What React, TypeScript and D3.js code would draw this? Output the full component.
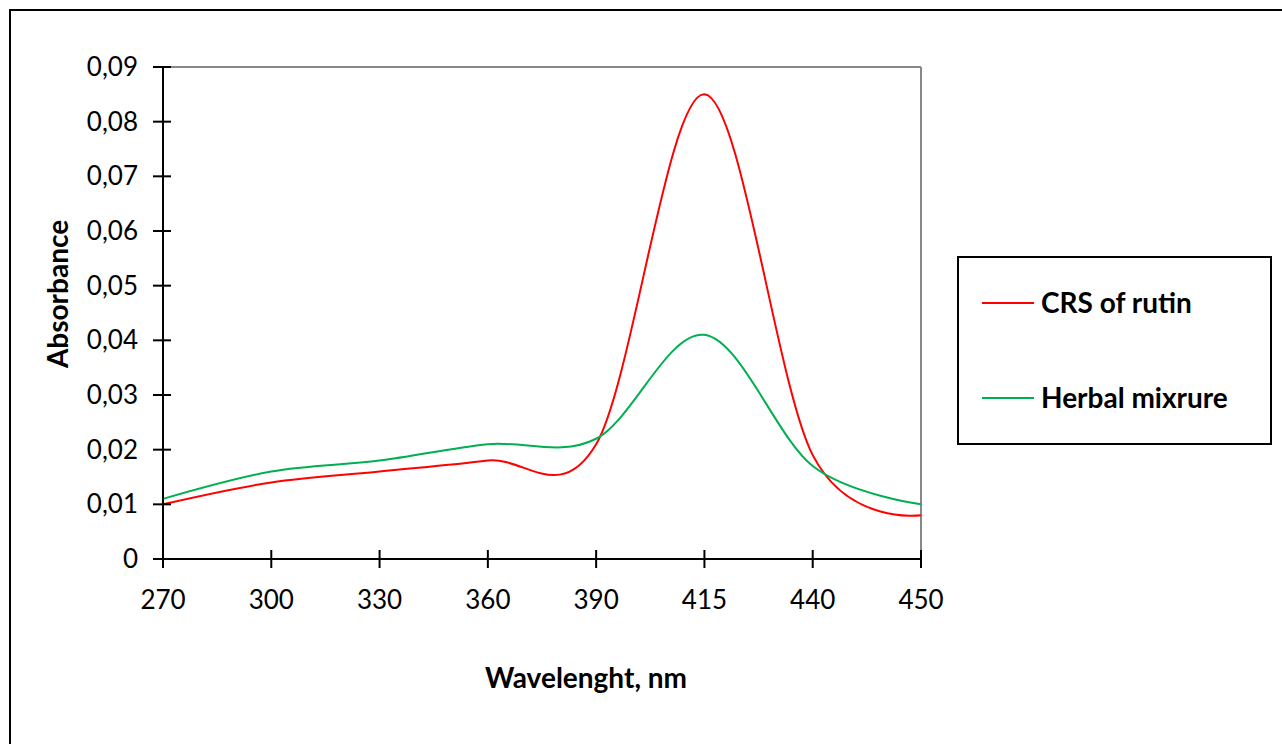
import * as d3 from "d3";

const categories = ["270", "300", "330", "360", "390", "415", "440", "450"];
const rutin = [0.01, 0.014, 0.016, 0.018, 0.021, 0.085, 0.019, 0.008];
const herbal = [0.011, 0.016, 0.018, 0.021, 0.022, 0.041, 0.017, 0.01];
const yTicks = [0, 0.01, 0.02, 0.03, 0.04, 0.05, 0.06, 0.07, 0.08, 0.09];

const series = [
  { name: "CRS of rutin", values: rutin, color: "#ff0000" },
  { name: "Herbal mixrure", values: herbal, color: "#00b050" },
];

const font = "Lato, 'Open Sans', sans-serif";

export default function App() {
  const width = 1282;
  const height = 744;
  const left = 163;
  const right = 921;
  const top = 67;
  const bottom = 559;

  const x = d3.scalePoint<string>().domain(categories).range([left, right]);
  const y = d3.scaleLinear().domain([0, 0.09]).range([bottom, top]);

  const line = d3
    .line<number>()
    .x((_, i) => x(categories[i]) as number)
    .y((d) => y(d))
    .curve(d3.curveCardinal.tension(0));

  const fmt = (v: number) => (v === 0 ? "0" : v.toFixed(2).replace(".", ","));

  return (
    <svg
      width={width}
      height={height}
      style={{ position: "absolute", left: 0, top: 0, fontFamily: font }}
    >
      <rect x={0} y={0} width={width} height={height} fill="#fff" />
      <rect x={10} y={10} width={1290} height={760} fill="none" stroke="#000" strokeWidth={2} />

      {/* plot frame */}
      <line x1={left} x2={right} y1={top} y2={top} stroke="#888" strokeWidth={2} />
      <line x1={right} x2={right} y1={top} y2={bottom} stroke="#888" strokeWidth={2} />

      {series.map((s) => (
        <path key={s.name} d={line(s.values) || ""} fill="none" stroke={s.color} strokeWidth={2} />
      ))}

      {/* axes */}
      <line x1={left} x2={left} y1={top} y2={bottom} stroke="#000" strokeWidth={2} />
      <line x1={left} x2={right} y1={bottom} y2={bottom} stroke="#000" strokeWidth={2} />

      {yTicks.map((t) => (
        <g key={t}>
          <line x1={left - 10} x2={left + 8} y1={y(t)} y2={y(t)} stroke="#000" strokeWidth={2} />
          <text x={138} y={y(t)} dy="0.35em" textAnchor="end" fontSize={26}>
            {fmt(t)}
          </text>
        </g>
      ))}

      {categories.map((c) => (
        <g key={c}>
          <line
            x1={x(c)}
            x2={x(c)}
            y1={bottom - 9}
            y2={bottom + 9}
            stroke="#000"
            strokeWidth={2}
          />
          <text x={x(c)} y={600} dy="0.35em" textAnchor="middle" fontSize={26}>
            {c}
          </text>
        </g>
      ))}

      <text
        transform={`translate(58,${(top + bottom) / 2 - 19}) rotate(-90)`}
        textAnchor="middle"
        dy="0.35em"
        fontSize={28}
        fontWeight="bold"
      >
        Absorbance
      </text>
      <text x={586} y={678} textAnchor="middle" dy="0.35em" fontSize={28} fontWeight="bold">
        Wavelenght, nm
      </text>

      {/* legend */}
      <rect x={958} y={257} width={313} height={187} fill="#fff" stroke="#000" strokeWidth={2} />
      {series.map((s, i) => {
        const ly = 303 + i * 95;
        return (
          <g key={s.name}>
            <line x1={982} x2={1034} y1={ly} y2={ly} stroke={s.color} strokeWidth={2} />
            <text x={1041} y={ly} dy="0.35em" fontSize={28} fontWeight="bold">
              {s.name}
            </text>
          </g>
        );
      })}
    </svg>
  );
}
